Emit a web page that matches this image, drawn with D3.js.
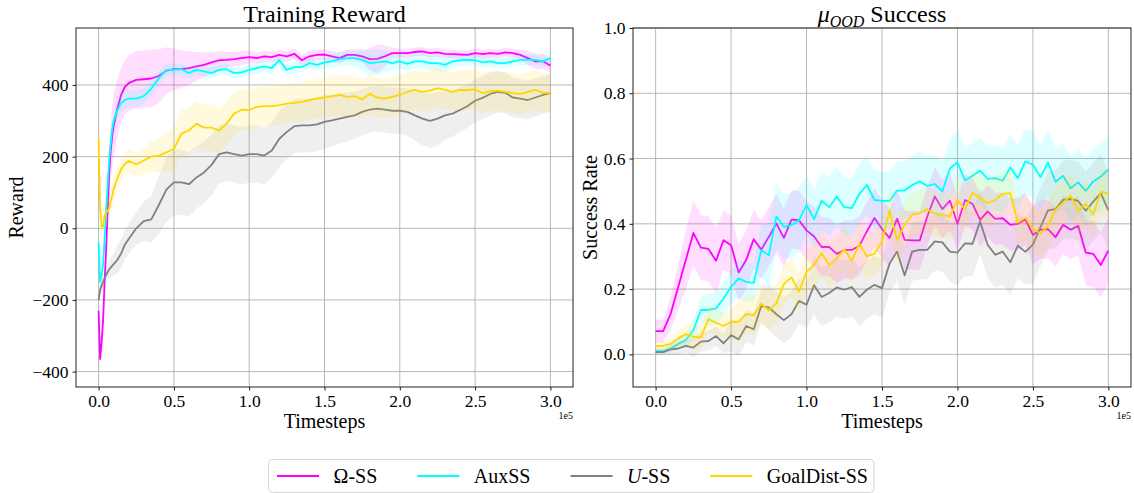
<!DOCTYPE html>
<html>
<head>
<meta charset="utf-8">
<script src="https://cdn.jsdelivr.net/npm/d3@7"></script>
<style>
  body { margin: 0; background: #fff; }
  svg { display: block; font-family: 'Liberation Serif', 'Times New Roman', serif; }
  svg text { font-family: 'Liberation Serif', 'Times New Roman', serif; }
</style>
</head>
<body>
<div id="chart"></div>
<script>
// ---- data (timesteps in units of 1e5) ----
const rewardSteps = [0, 0.01, 0.02, 0.03, 0.04, 0.05, 0.06, 0.07, 0.08, 0.09, 0.1, 0.125, 0.15, 0.175, 0.2,
  0.25, 0.3, 0.35, 0.4, 0.45, 0.5, 0.55, 0.6, 0.65, 0.7, 0.75, 0.8, 0.85, 0.9, 0.95, 1.0,
  1.05, 1.1, 1.15, 1.2, 1.25, 1.3, 1.35, 1.4, 1.45, 1.5,
  1.55, 1.6, 1.65, 1.7, 1.75, 1.8, 1.85, 1.9, 1.95, 2.0,
  2.05, 2.1, 2.15, 2.2, 2.25, 2.3, 2.35, 2.4, 2.45, 2.5,
  2.55, 2.6, 2.65, 2.7, 2.75, 2.8, 2.85, 2.9, 2.95, 3.0];

const omegaReward = [-230, -365, -320, -255, -150, -60, 50, 150, 215, 255, 285, 335, 373, 395, 405,
  414, 416, 418, 425, 440, 444, 444, 447, 452, 456, 463, 469, 470, 472, 475, 478,
  475, 480, 478, 484, 480, 487, 469, 480, 484, 485,
  480, 475, 484, 484, 480, 472, 473, 480, 489, 489,
  489, 492, 494, 489, 491, 487, 486, 485, 484, 489,
  486, 489, 487, 491, 489, 484, 475, 466, 466, 454];
const auxReward = [-40, -150, -130, -100, -30, 50, 120, 190, 235, 275, 300, 330, 350, 358, 362,
  362, 369, 390, 419, 442, 442, 444, 433, 442, 438, 433, 442, 444, 433, 435, 442,
  447, 452, 447, 469, 442, 450, 450, 461, 456, 463,
  466, 472, 475, 475, 470, 461, 463, 466, 461, 466,
  459, 466, 466, 461, 461, 456, 466, 469, 470, 469,
  463, 466, 461, 461, 466, 470, 470, 470, 466, 475];
const uReward = [-200, -172, -160, -150, -140, -130, -122, -115, -110, -105, -100, -88, -70, -45, -30,
  0, 20, 25, 65, 108, 128, 128, 123, 142, 156, 177, 207, 212, 207, 203, 207,
  207, 203, 217, 250, 269, 285, 287, 287, 290, 297,
  301, 306, 311, 315, 325, 331, 334, 331, 328, 328,
  325, 315, 306, 300, 306, 315, 320, 330, 341, 356,
  364, 375, 381, 378, 365, 362, 358, 365, 372, 377];
const goalReward = [250, 60, 5, 5, 35, 45, 48, 55, 75, 90, 110, 140, 165, 180, 188,
  178, 189, 200, 203, 212, 222, 264, 273, 292, 281, 281, 273, 292, 320, 331, 330,
  339, 341, 341, 344, 348, 350, 353, 358, 362, 365,
  369, 372, 367, 369, 360, 375, 365, 362, 367, 372,
  381, 386, 381, 384, 391, 386, 381, 386, 386, 388,
  377, 383, 384, 381, 377, 375, 381, 386, 378, 378];

const omegaRewardStd = [15, 15, 15, 15, 20, 30, 45, 60, 75, 85, 90, 80, 75, 75, 78,
  80, 80, 80, 75, 65, 58, 52, 47, 40, 35, 28, 25, 22, 20, 20, 18,
  15, 15, 15, 15, 15, 15, 15, 15, 15, 15,
  15, 15, 15, 15, 18, 30, 40, 30, 15, 12,
  12, 12, 12, 12, 12, 12, 12, 12, 12, 12,
  12, 12, 12, 12, 12, 14, 20, 22, 22, 20];
const auxRewardStd = [10, 10, 10, 15, 20, 25, 25, 25, 25, 25, 25, 25, 25, 25, 25,
  22, 22, 22, 20, 20, 18, 16, 15, 15, 15, 15, 15, 15, 15, 15, 15,
  15, 15, 15, 15, 15, 15, 15, 15, 15, 15,
  18, 20, 20, 22, 28, 35, 35, 30, 22, 20,
  20, 20, 20, 20, 22, 22, 18, 15, 15, 15,
  15, 15, 15, 15, 15, 15, 15, 15, 15, 15];
const uRewardStd = [10, 15, 20, 20, 20, 20, 22, 25, 28, 30, 32, 38, 40, 40, 42,
  45, 55, 65, 80, 90, 92, 90, 90, 88, 85, 85, 82, 80, 80, 80, 80,
  80, 80, 78, 78, 76, 75, 75, 75, 75, 75,
  72, 70, 68, 66, 65, 64, 64, 64, 64, 64,
  66, 70, 74, 76, 74, 68, 64, 62, 60, 60,
  60, 60, 58, 56, 55, 55, 54, 53, 52, 52];
const goalRewardStd = [10, 20, 20, 20, 22, 25, 28, 30, 30, 30, 30, 30, 30, 32, 33,
  33, 38, 42, 48, 55, 62, 65, 65, 65, 65, 65, 62, 60, 58, 58, 56,
  55, 55, 55, 55, 55, 55, 55, 55, 55, 55,
  55, 55, 55, 55, 55, 55, 55, 55, 55, 55,
  55, 55, 55, 55, 55, 55, 55, 55, 55, 55,
  55, 55, 55, 55, 55, 55, 55, 55, 55, 55];

const successSteps = [0, 0.05, 0.1, 0.15, 0.2, 0.25, 0.3, 0.35, 0.4, 0.45,
  0.5, 0.55, 0.6, 0.65, 0.7, 0.75, 0.8, 0.85, 0.9, 0.95,
  1.0, 1.05, 1.1, 1.15, 1.2, 1.25, 1.3, 1.35, 1.4, 1.45,
  1.5, 1.55, 1.6, 1.65, 1.7, 1.75, 1.8, 1.85, 1.9, 1.95,
  2.0, 2.05, 2.1, 2.15, 2.2, 2.25, 2.3, 2.35, 2.4, 2.45,
  2.5, 2.55, 2.6, 2.65, 2.7, 2.75, 2.8, 2.85, 2.9, 2.95,
  3.0];

const omegaSuccess = [0.071, 0.071, 0.125, 0.207, 0.289, 0.372, 0.327, 0.323, 0.287, 0.35,
  0.334, 0.251, 0.289, 0.353, 0.321, 0.36, 0.401, 0.357, 0.413, 0.411,
  0.38, 0.361, 0.329, 0.329, 0.308, 0.320, 0.320, 0.333, 0.377, 0.418,
  0.384, 0.357, 0.416, 0.351, 0.349, 0.349, 0.422, 0.484, 0.445, 0.471,
  0.400, 0.473, 0.461, 0.412, 0.438, 0.415, 0.417, 0.397, 0.400, 0.414,
  0.366, 0.382, 0.384, 0.359, 0.397, 0.382, 0.394, 0.312, 0.308, 0.274,
  0.318];
const auxSuccess = [0.010, 0.010, 0.018, 0.032, 0.044, 0.074, 0.136, 0.136, 0.141, 0.171,
  0.207, 0.233, 0.222, 0.219, 0.319, 0.304, 0.423, 0.391, 0.396, 0.411,
  0.458, 0.414, 0.471, 0.451, 0.484, 0.451, 0.448, 0.492, 0.519, 0.473,
  0.470, 0.470, 0.502, 0.502, 0.519, 0.530, 0.516, 0.522, 0.499, 0.570,
  0.588, 0.533, 0.547, 0.563, 0.538, 0.540, 0.532, 0.573, 0.540, 0.591,
  0.581, 0.543, 0.588, 0.529, 0.547, 0.509, 0.527, 0.501, 0.530, 0.545,
  0.567];
const uSuccess = [0.007, 0.007, 0.015, 0.018, 0.026, 0.021, 0.039, 0.041, 0.056, 0.034,
  0.059, 0.046, 0.087, 0.077, 0.148, 0.144, 0.123, 0.105, 0.123, 0.164,
  0.152, 0.212, 0.176, 0.188, 0.205, 0.198, 0.206, 0.176, 0.198, 0.213,
  0.203, 0.278, 0.315, 0.242, 0.315, 0.320, 0.320, 0.346, 0.343, 0.315,
  0.312, 0.340, 0.339, 0.407, 0.336, 0.305, 0.315, 0.282, 0.333, 0.314,
  0.336, 0.390, 0.441, 0.445, 0.473, 0.476, 0.470, 0.440, 0.468, 0.494,
  0.441];
const goalSuccess = [0.026, 0.026, 0.032, 0.049, 0.062, 0.054, 0.052, 0.108, 0.097, 0.087,
  0.100, 0.100, 0.123, 0.120, 0.156, 0.134, 0.156, 0.215, 0.236, 0.192,
  0.253, 0.274, 0.310, 0.274, 0.295, 0.322, 0.288, 0.339, 0.300, 0.308,
  0.346, 0.441, 0.351, 0.397, 0.428, 0.433, 0.445, 0.430, 0.428, 0.422,
  0.473, 0.444, 0.496, 0.479, 0.463, 0.473, 0.492, 0.494, 0.404, 0.419,
  0.384, 0.371, 0.394, 0.443, 0.465, 0.486, 0.440, 0.461, 0.428, 0.499,
  0.492];

const omegaSuccessStd = [0.035, 0.035, 0.05, 0.07, 0.09, 0.1, 0.1, 0.1, 0.1, 0.09,
  0.09, 0.09, 0.09, 0.09, 0.09, 0.09, 0.09, 0.09, 0.09, 0.09,
  0.09, 0.09, 0.09, 0.09, 0.09, 0.09, 0.09, 0.09, 0.09, 0.09,
  0.09, 0.09, 0.09, 0.09, 0.09, 0.09, 0.09, 0.09, 0.09, 0.09,
  0.08, 0.08, 0.08, 0.08, 0.08, 0.08, 0.08, 0.08, 0.08, 0.08,
  0.09, 0.09, 0.09, 0.09, 0.09, 0.09, 0.09, 0.1, 0.1, 0.1,
  0.1];
const auxSuccessStd = [0.01, 0.01, 0.012, 0.015, 0.02, 0.03, 0.04, 0.05, 0.05, 0.05,
  0.05, 0.06, 0.06, 0.06, 0.08, 0.1, 0.1, 0.1, 0.1, 0.1,
  0.09, 0.09, 0.09, 0.09, 0.09, 0.09, 0.09, 0.09, 0.09, 0.09,
  0.09, 0.09, 0.09, 0.09, 0.09, 0.09, 0.09, 0.09, 0.09, 0.09,
  0.1, 0.1, 0.1, 0.1, 0.1, 0.1, 0.1, 0.1, 0.1, 0.1,
  0.1, 0.1, 0.1, 0.1, 0.1, 0.1, 0.1, 0.1, 0.1, 0.1,
  0.1];
const uSuccessStd = [0.01, 0.01, 0.015, 0.02, 0.02, 0.03, 0.03, 0.03, 0.03, 0.03,
  0.05, 0.05, 0.05, 0.05, 0.05, 0.07, 0.07, 0.07, 0.07, 0.07,
  0.07, 0.09, 0.09, 0.09, 0.09, 0.09, 0.09, 0.09, 0.09, 0.09,
  0.09, 0.09, 0.09, 0.09, 0.09, 0.09, 0.09, 0.09, 0.09, 0.09,
  0.1, 0.1, 0.1, 0.1, 0.1, 0.1, 0.1, 0.1, 0.1, 0.1,
  0.12, 0.12, 0.12, 0.12, 0.12, 0.12, 0.12, 0.12, 0.12, 0.12,
  0.12];
const goalSuccessStd = [0.015, 0.015, 0.02, 0.025, 0.03, 0.04, 0.04, 0.04, 0.04, 0.04,
  0.04, 0.06, 0.06, 0.06, 0.06, 0.06, 0.06, 0.06, 0.06, 0.06,
  0.06, 0.07, 0.07, 0.07, 0.07, 0.07, 0.07, 0.07, 0.07, 0.07,
  0.07, 0.07, 0.07, 0.07, 0.07, 0.07, 0.07, 0.07, 0.07, 0.07,
  0.07, 0.07, 0.07, 0.07, 0.07, 0.07, 0.07, 0.07, 0.07, 0.07,
  0.07, 0.07, 0.07, 0.07, 0.07, 0.07, 0.07, 0.07, 0.07, 0.07,
  0.07];

const xTicks = [0, 0.5, 1.0, 1.5, 2.0, 2.5, 3.0];
const rewardTicks = [-400, -200, 0, 200, 400];
const successTicks = [0, 0.2, 0.4, 0.6, 0.8, 1.0];

const methods = [
  { key: 'omega', color: '#ff00ff', label: [['Ω', false], ['-SS', false]] },
  { key: 'aux', color: '#00ffff', label: [['AuxSS', false]] },
  { key: 'u', color: '#808080', label: [['U', true], ['-SS', false]] },
  { key: 'goal', color: '#ffd700', label: [['GoalDist-SS', false]] }
];

// ---- layout ----
const width = 1134, height = 493;
const plotTop = 28, plotBottom = 387;
const serif = "'Liberation Serif', 'Times New Roman', serif";

const svg = d3.select('#chart').append('svg')
  .attr('width', width).attr('height', height)
  .attr('viewBox', `0 0 ${width} ${height}`);

function drawPanel(p) {
  const x = d3.scaleLinear().domain([-0.15, 3.15]).range([p.left, p.right]);
  const y = d3.scaleLinear().domain(p.yDomain).range([plotBottom, plotTop]);
  const g = svg.append('g');

  const clipId = 'clip-' + p.id;
  svg.append('defs').append('clipPath').attr('id', clipId)
    .append('rect').attr('x', p.left).attr('y', plotTop)
    .attr('width', p.right - p.left).attr('height', plotBottom - plotTop);

  // grid
  g.append('g').selectAll('line').data(xTicks).join('line')
    .attr('x1', d => x(d)).attr('x2', d => x(d))
    .attr('y1', plotTop).attr('y2', plotBottom)
    .attr('stroke', '#b0b0b0').attr('stroke-width', 0.9);
  g.append('g').selectAll('line').data(p.yTicks).join('line')
    .attr('x1', p.left).attr('x2', p.right)
    .attr('y1', d => y(d)).attr('y2', d => y(d))
    .attr('stroke', '#b0b0b0').attr('stroke-width', 0.9);

  // series: band then line, in legend order
  const plot = g.append('g').attr('clip-path', `url(#${clipId})`);
  p.series.forEach(s => {
    const pts = p.steps.map((t, i) => ({ t, v: s.values[i], sd: s.std[i] }));
    plot.append('path').datum(pts)
      .attr('fill', s.color).attr('fill-opacity', 0.13).attr('stroke', 'none')
      .attr('d', d3.area().x(d => x(d.t)).y0(d => y(d.v - d.sd)).y1(d => y(d.v + d.sd)));
    plot.append('path').datum(pts)
      .attr('fill', 'none').attr('stroke', s.color).attr('stroke-width', 1.8)
      .attr('stroke-linejoin', 'round')
      .attr('d', d3.line().x(d => x(d.t)).y(d => y(d.v)));
  });

  // axes
  const xAxis = g.append('g').attr('transform', `translate(0,${plotBottom})`)
    .call(d3.axisBottom(x).tickValues(xTicks).tickFormat(d3.format('.1f')).tickSize(3.5).tickPadding(4));
  const yAxis = g.append('g').attr('transform', `translate(${p.left},0)`)
    .call(d3.axisLeft(y).tickValues(p.yTicks).tickFormat(p.yFormat).tickSize(3.5).tickPadding(4));
  [xAxis, yAxis].forEach(a => {
    a.attr('font-family', null).attr('font-size', null);
    a.select('.domain').remove();
    a.selectAll('text').style('font-family', serif).style('font-size', '17.5px').attr('fill', '#000');
    a.selectAll('line').attr('stroke', '#000').attr('stroke-width', 0.9);
  });

  // frame
  g.append('rect').attr('x', p.left).attr('y', plotTop)
    .attr('width', p.right - p.left).attr('height', plotBottom - plotTop)
    .attr('fill', 'none').attr('stroke', '#222').attr('stroke-width', 1);

  // offset label
  g.append('text').attr('x', p.right).attr('y', 419)
    .attr('text-anchor', 'end').style('font-size', '10px').text('1e5');

  // axis labels
  g.append('text').attr('x', (p.left + p.right) / 2).attr('y', 428)
    .attr('text-anchor', 'middle').style('font-size', '20px').text('Timesteps');
  g.append('text')
    .attr('transform', `translate(${p.ylabelX},${(plotTop + plotBottom) / 2}) rotate(-90)`)
    .attr('text-anchor', 'middle').style('font-size', '20px').text(p.ylabel);

  // title
  const title = g.append('text').attr('x', (p.left + p.right) / 2).attr('y', 22)
    .attr('text-anchor', 'middle').style('font-size', '24px');
  p.title(title);
}

drawPanel({
  id: 'reward', left: 76, right: 573, ylabelX: 23,
  yDomain: [-443, 559], yTicks: rewardTicks, yFormat: d3.format('d'),
  steps: rewardSteps, ylabel: 'Reward',
  title: t => t.text('Training Reward'),
  series: [
    { color: methods[0].color, values: omegaReward, std: omegaRewardStd },
    { color: methods[1].color, values: auxReward, std: auxRewardStd },
    { color: methods[2].color, values: uReward, std: uRewardStd },
    { color: methods[3].color, values: goalReward, std: goalRewardStd }
  ]
});

drawPanel({
  id: 'success', left: 633, right: 1131, ylabelX: 597,
  yDomain: [-0.1, 1.0], yTicks: successTicks, yFormat: d3.format('.1f'),
  steps: successSteps, ylabel: 'Success Rate',
  title: t => {
    t.append('tspan').attr('font-style', 'italic').text('μ');
    t.append('tspan').attr('font-style', 'italic').style('font-size', '16px').attr('dy', 5).text('OOD');
    t.append('tspan').attr('dy', -5).text(' Success');
  },
  series: [
    { color: methods[0].color, values: omegaSuccess, std: omegaSuccessStd },
    { color: methods[1].color, values: auxSuccess, std: auxSuccessStd },
    { color: methods[2].color, values: uSuccess, std: uSuccessStd },
    { color: methods[3].color, values: goalSuccess, std: goalSuccessStd }
  ]
});

// ---- legend (matplotlib-like layout: handle 42, pad 14.5, column gap 40) ----
const legend = svg.append('g');
const box = legend.append('rect').attr('y', 459.5).attr('height', 33)
  .attr('rx', 4).attr('fill', '#fff').attr('stroke', '#d6d6d6').attr('stroke-width', 1);

let cursor = 277;
methods.forEach(m => {
  legend.append('line').attr('x1', cursor).attr('x2', cursor + 42)
    .attr('y1', 476).attr('y2', 476)
    .attr('stroke', m.color).attr('stroke-width', 1.8);
  const txt = legend.append('text').attr('x', cursor + 56.5).attr('y', 482.5).style('font-size', '20px');
  m.label.forEach(([s, it]) => txt.append('tspan').attr('font-style', it ? 'italic' : 'normal').text(s));
  cursor += 56.5 + txt.node().getComputedTextLength() + 40;
});
box.attr('x', 268.5).attr('width', cursor - 40 + 6 - 268.5);
</script>
</body>
</html>
